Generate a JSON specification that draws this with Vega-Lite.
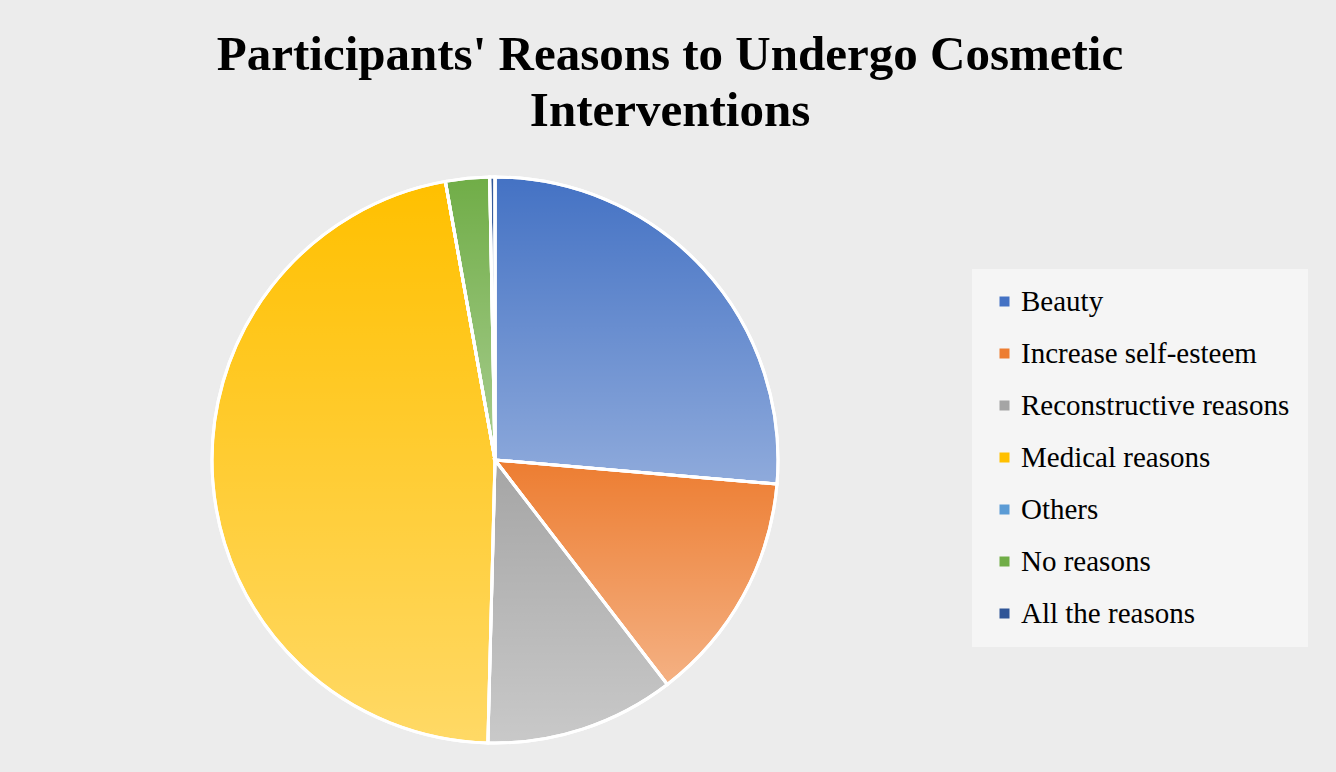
{
  "$schema": "https://vega.github.io/schema/vega-lite/v6.json",
  "width": 566,
  "height": 566,
  "autosize": {"type": "none"},
  "padding": {"left": 212, "top": 177, "right": 558, "bottom": 29},
  "background": "#ececec",
  "title": {
    "text": ["Participants' Reasons to Undergo Cosmetic", "Interventions"],
    "font": "Liberation Serif",
    "fontSize": 49,
    "fontWeight": "bold",
    "color": "#000000",
    "lineHeight": 56,
    "anchor": "middle",
    "dx": 175,
    "offset": 35
  },
  "data": {
    "values": [
      {"idx": 1, "reason": "Beauty", "share": 26.3},
      {"idx": 2, "reason": "Increase self-esteem", "share": 13.2},
      {"idx": 3, "reason": "Reconstructive reasons", "share": 10.8},
      {"idx": 4, "reason": "Medical reasons", "share": 46.7},
      {"idx": 5, "reason": "Others", "share": 0},
      {"idx": 6, "reason": "No reasons", "share": 2.5},
      {"idx": 7, "reason": "All the reasons", "share": 0.3}
    ]
  },
  "encoding": {
    "theta": {"field": "share", "type": "quantitative", "stack": true},
    "order": {"field": "idx", "type": "quantitative"}
  },
  "layer": [
    {
      "mark": {"type": "arc", "stroke": "#ffffff", "strokeWidth": 3},
      "encoding": {
        "color": {
          "field": "reason",
          "type": "nominal",
          "sort": null,
          "scale": {
            "domain": ["Beauty", "Increase self-esteem", "Reconstructive reasons", "Medical reasons", "Others", "No reasons", "All the reasons"],
            "range": ["#4472C4", "#ED7D31", "#A5A5A5", "#FFC000", "#5B9BD5", "#70AD47", "#2F5597"]
          },
          "legend": {
            "title": null,
            "orient": "none",
            "legendX": 760,
            "legendY": 92,
            "padding": 18,
            "fillColor": "#f5f5f5",
            "symbolType": "square",
            "symbolSize": 100,
            "symbolStrokeWidth": 0,
            "labelFont": "Liberation Serif",
            "labelFontSize": 29,
            "labelColor": "#000000",
            "labelLimit": 400,
            "labelOffset": 2,
            "rowPadding": 22
          }
        }
      }
    },
    {
      "mark": {
        "type": "arc",
        "stroke": "#ffffff",
        "strokeWidth": 3,
        "color": {
          "gradient": "linear",
          "x1": 0, "y1": 0, "x2": 0, "y2": 1,
          "stops": [
            {"offset": 0, "color": "rgba(255,255,255,0)"},
            {"offset": 1, "color": "rgba(255,255,255,0.4)"}
          ]
        }
      }
    }
  ],
  "config": {"view": {"stroke": null}}
}
